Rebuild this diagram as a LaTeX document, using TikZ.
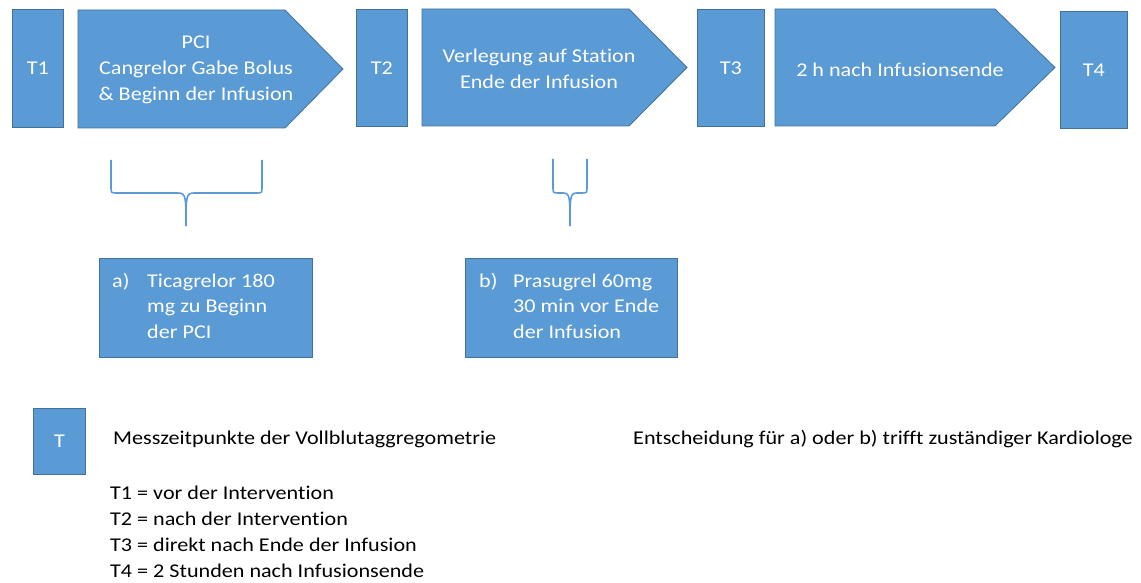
\documentclass[tikz,border=0pt]{standalone}
\usepackage{fontspec}
\setmainfont{Carlito}[FakeStretch=1.135, Ligatures=NoCommon]
\definecolor{fillblue}{HTML}{5B9BD5}
\definecolor{lineblue}{HTML}{41719C}
\definecolor{bracecol}{HTML}{5B9BD5}
\begin{document}
\begin{tikzpicture}[x=1pt,y=-1pt,
  blk/.style={draw=lineblue, fill=fillblue, line width=0.8pt},
  tbox/.style={blk, anchor=north west, inner sep=0pt},
  wtxt/.style={text=white, font=\fontsize{19.5}{26.3}\selectfont, align=center, inner sep=0pt},
  btxt/.style={text=black, font=\fontsize{19.5}{26.3}\selectfont, inner sep=0pt},
  bracestyle/.style={draw=bracecol, line width=1.6pt}]
\useasboundingbox (0,0) rectangle (1141,583);
% time point boxes
\node[tbox, minimum width=51pt, minimum height=118pt] (t1) at (12,9) {};
\node[wtxt] (t1l) at (t1.center) {T1};
\node[tbox, minimum width=51pt, minimum height=117pt] (t2) at (356,9) {};
\node[wtxt] (t2l) at (t2.center) {T2};
\node[tbox, minimum width=67pt, minimum height=117pt] (t3) at (697,9) {};
\node[wtxt] (t3l) at (t3.center) {T3};
\node[tbox, minimum width=67pt, minimum height=117pt] (t4) at (1060,11) {};
\node[wtxt] (t4l) at (t4.center) {T4};
% phase arrows
\path[blk] (78,10) -- (285,10) -- (343,69) -- (285,128) -- (78,128) -- cycle;
\node[wtxt] (p1) at (196,70) {PCI\\Cangrelor Gabe Bolus\\\& Beginn der Infusion};
\path[blk] (422,9) -- (629,9) -- (687,67.5) -- (629,126) -- (422,126) -- cycle;
\node[wtxt] (p2) at (539,69) {Verlegung auf Station\\Ende der Infusion};
\path[blk] (775,9) -- (995,9) -- (1055,67.5) -- (995,126) -- (775,126) -- cycle;
\node[wtxt] (p3) at (900,70) {2 h nach Infusionsende};
% braces
\coordinate (bA) at (186,226);
\draw[bracestyle] (111,160) -- (111,187) .. controls (111,193) .. (117,193) -- (178,193) .. controls (186,193) and (186,197) .. (bA);
\draw[bracestyle] (262,160) -- (262,187) .. controls (262,193) .. (256,193) -- (194,193) .. controls (186,193) and (186,197) .. (bA);
\coordinate (bB) at (570,226);
\draw[bracestyle] (553,159) -- (553,187) .. controls (553,193) .. (559,193) -- (563,193) .. controls (570,193) and (570,197) .. (bB);
\draw[bracestyle] (587,159) -- (587,187) .. controls (587,193) .. (581,193) -- (577,193) .. controls (570,193) and (570,197) .. (bB);
% option boxes
\node[tbox, minimum width=213pt, minimum height=99pt] (oa) at (99,258) {};
\node[wtxt, anchor=base west] (oal) at (112,287) {a)};
\node[wtxt, anchor=base west] (oa1) at (147,287) {Ticagrelor 180};
\node[wtxt, anchor=base west] (oa2) at (147,312.3) {mg zu Beginn};
\node[wtxt, anchor=base west] (oa3) at (147,338.6) {der PCI};
\node[tbox, minimum width=212pt, minimum height=99pt] (ob) at (465,258) {};
\node[wtxt, anchor=base west] (obl) at (479,287) {b)};
\node[wtxt, anchor=base west] (ob1) at (513,287) {Prasugrel 60mg};
\node[wtxt, anchor=base west] (ob2) at (513,312.3) {30 min vor Ende};
\node[wtxt, anchor=base west] (ob3) at (513,338.6) {der Infusion};
% legend
\node[tbox, minimum width=52pt, minimum height=66pt] (lt) at (33,408) {};
\node[wtxt] (ltl) at (lt.center) {T};
\node[btxt, anchor=base west] (leg) at (113,444) {Messzeitpunkte der Vollblutaggregometrie};
\node[btxt, anchor=base west] (dec) at (633,444) {Entscheidung für a) oder b) trifft zuständiger Kardiologe};
\node[btxt, anchor=base west] (l1) at (110,499) {T1 = vor der Intervention};
\node[btxt, anchor=base west] (l2) at (110,525.3) {T2 = nach der Intervention};
\node[btxt, anchor=base west] (l3) at (110,551.6) {T3 = direkt nach Ende der Infusion};
\node[btxt, anchor=base west] (l4) at (110,577.9) {T4 = 2 Stunden nach Infusionsende};
\end{tikzpicture}
\end{document}
